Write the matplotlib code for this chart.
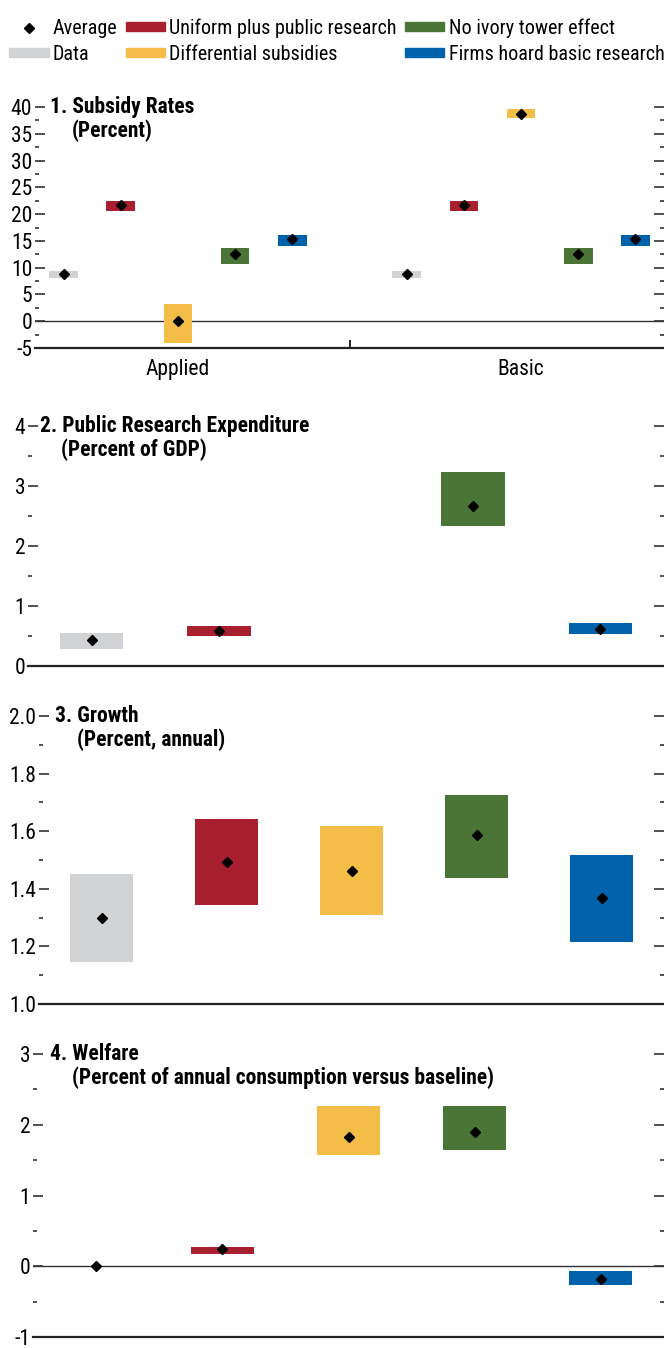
import numpy as np
import matplotlib.pyplot as plt
from matplotlib.patches import Patch
from matplotlib.lines import Line2D
from matplotlib.ticker import MultipleLocator, FormatStrFormatter

plt.rcParams['font.family'] = ['Liberation Sans Narrow', 'DejaVu Sans Condensed', 'Roboto Condensed',
                               'Liberation Sans', 'DejaVu Sans']
plt.rcParams['font.stretch'] = 'condensed'

# Scenarios (same order in every panel)
scenarios = ['Data', 'Uniform plus public research', 'Differential subsidies',
             'No ivory tower effect', 'Firms hoard basic research']
colors = ['#D1D2D4', '#A81F2F', '#F4BD48', '#4A7537', '#0062AA']

# 1. Subsidy rates (percent): range low/high and average
sub_applied_low = [8.1, 20.6, -4.1, 10.6, 14.1]
sub_applied_high = [9.4, 22.5, 3.2, 13.7, 16.1]
sub_applied_avg = [8.9, 21.7, 0.0, 12.6, 15.4]
sub_basic_low = [8.1, 20.6, 37.9, 10.6, 14.1]
sub_basic_high = [9.4, 22.5, 39.6, 13.7, 16.1]
sub_basic_avg = [8.9, 21.7, 38.6, 12.6, 15.4]
sub_groups = ['Applied', 'Basic']

# 2. Public research expenditure (percent of GDP)
pub_low = [0.28, 0.50, np.nan, 2.33, 0.53]
pub_high = [0.55, 0.66, np.nan, 3.23, 0.71]
pub_avg = [0.44, 0.58, np.nan, 2.67, 0.61]

# 3. Growth (percent, annual)
gro_low = [1.147, 1.344, 1.309, 1.439, 1.217]
gro_high = [1.451, 1.642, 1.618, 1.726, 1.517]
gro_avg = [1.30, 1.493, 1.461, 1.586, 1.367]

# 4. Welfare (percent of annual consumption versus baseline)
wel_low = [np.nan, 0.18, 1.57, 1.64, -0.26]
wel_high = [np.nan, 0.27, 2.27, 2.27, -0.07]
wel_avg = [0.0, 0.24, 1.82, 1.90, -0.18]

FS = 15.5
W, H = 664, 1348
fig = plt.figure(figsize=(W / 100, H / 100), dpi=100)


def add_ax(left, top, bottom, right=664):
    return fig.add_axes([left / W, 1 - bottom / H, (right - left) / W, (bottom - top) / H])


def style(ax, ymin, ymax, major, minor, fmt='%g'):
    ax.set_ylim(ymin, ymax)
    ax.yaxis.set_major_locator(MultipleLocator(major))
    ax.yaxis.set_minor_locator(MultipleLocator(minor))
    ax.yaxis.set_major_formatter(FormatStrFormatter(fmt))
    for s in ['top', 'left', 'right']:
        ax.spines[s].set_visible(False)
    ax.spines['bottom'].set_linewidth(1.6)
    ax.spines['bottom'].set_color('#222222')
    ax.tick_params(axis='y', which='both', direction='in', left=True, right=True,
                   labelsize=FS, pad=2, color='#333333')
    ax.tick_params(axis='y', which='major', length=7, width=1.2)
    ax.tick_params(axis='y', which='minor', length=3, width=1.2)


def draw(ax, pos, low, high, avg):
    low = np.array(low, dtype=float)
    high = np.array(high, dtype=float)
    ax.bar(pos, high - low, bottom=low, width=0.5, color=colors, zorder=2)
    ax.plot(pos, avg, 'D', color='black', ms=5.5, ls='none', zorder=5)


def title(ax, line1, line2, dx1, dx2):
    ax.annotate(line1, xy=(0, 1), xycoords='axes fraction', xytext=(dx1 * 0.72, 0),
                textcoords='offset points', va='center', ha='left', fontsize=FS,
                fontweight='bold')
    ax.annotate(line2, xy=(0, 1), xycoords='axes fraction', xytext=(dx2 * 0.72, -24 * 0.72),
                textcoords='offset points', va='center', ha='left', fontsize=FS,
                fontweight='bold')


x5 = np.arange(5)

# Panel 1
ax1 = add_ax(35, 107, 348)
draw(ax1, x5, sub_applied_low, sub_applied_high, sub_applied_avg)
draw(ax1, x5 + 6, sub_basic_low, sub_basic_high, sub_basic_avg)
ax1.axhline(0, color='#333333', lw=1.0, zorder=1)
style(ax1, -5, 40, 5, 2.5)
ax1.set_xlim(-0.5, 10.5)
ax1.set_xticks([2, 8])
ax1.set_xticklabels(sub_groups)
ax1.set_xticks([5], minor=True)
ax1.tick_params(axis='x', which='major', length=0, labelsize=FS, pad=8)
ax1.tick_params(axis='x', which='minor', direction='in', length=6, width=1.2)
title(ax1, '1. Subsidy Rates', '(Percent)', 15, 37)

# Panel 2
ax2 = add_ax(28, 426, 666)
draw(ax2, x5, pub_low, pub_high, pub_avg)
style(ax2, 0, 4, 1, 0.5)
ax2.set_xlim(-0.5, 4.5)
ax2.set_xticks([])
title(ax2, '2. Public Research Expenditure', '(Percent of GDP)', 12, 33)

# Panel 3
ax3 = add_ax(39, 716, 1004)
draw(ax3, x5, gro_low, gro_high, gro_avg)
style(ax3, 1.0, 2.0, 0.2, 0.1, '%.1f')
ax3.set_xlim(-0.5, 4.5)
ax3.set_xticks([])
title(ax3, '3. Growth', '(Percent, annual)', 16, 38)

# Panel 4 (bottom kept a few pixels up so the -1 label fits)
ax4 = add_ax(33, 1054, 1337)
draw(ax4, x5, wel_low, wel_high, wel_avg)
ax4.axhline(0, color='#333333', lw=1.0, zorder=1)
style(ax4, -1, 3, 1, 0.5)
ax4.set_xlim(-0.5, 4.5)
ax4.set_xticks([])
title(ax4, '4. Welfare', '(Percent of annual consumption versus baseline)', 17, 39)

# Legend (column-wise fill)
handles = [Line2D([], [], marker='D', color='black', ls='none', ms=5.5),
           Patch(color=colors[0]), Patch(color=colors[1]), Patch(color=colors[2]),
           Patch(color=colors[3]), Patch(color=colors[4])]
labels = ['Average', scenarios[0], scenarios[1], scenarios[2], scenarios[3], scenarios[4]]
fig.legend(handles, labels, ncol=3, loc='upper left', bbox_to_anchor=(0.014, 1 - 18 / H),
           frameon=False, fontsize=14.5, handlelength=1.95, handleheight=0.35,
           handletextpad=0.22, columnspacing=0.4, labelspacing=0.35, borderpad=0,
           borderaxespad=0)

fig.savefig('out.png', dpi=100)
